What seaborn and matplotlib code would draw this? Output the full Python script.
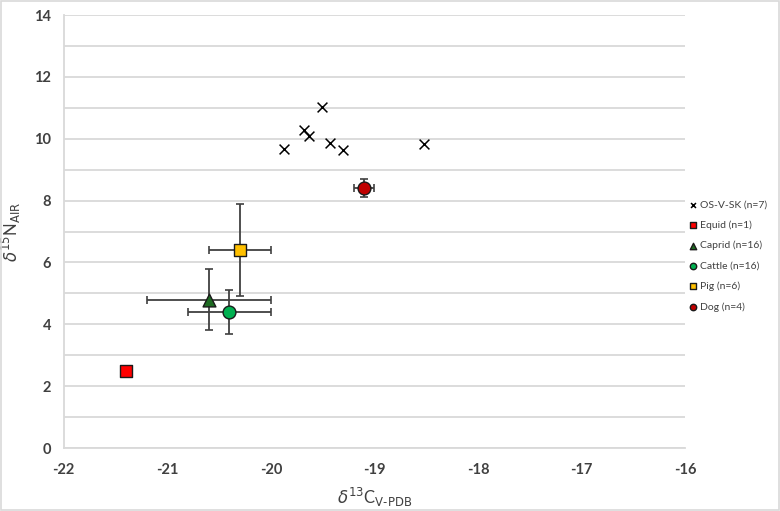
import matplotlib
matplotlib.use("Agg")
import matplotlib.pyplot as plt
import seaborn as sns
import pandas as pd
from matplotlib.ticker import MultipleLocator

# --- data ---
human_c = [-19.51, -19.68, -19.63, -19.87, -19.43, -19.30, -18.52]
human_n = [11.03, 10.29, 10.10, 9.66, 9.86, 9.62, 9.84]

groups = ["Equid (n=1)", "Caprid (n=16)", "Cattle (n=16)", "Pig (n=6)", "Dog (n=4)"]
mean_c = [-21.40, -20.60, -20.40, -20.30, -19.10]
mean_n = [2.50, 4.80, 4.40, 6.40, 8.40]
sd_c = [0.0, 0.6, 0.4, 0.3, 0.1]
sd_n = [0.0, 1.0, 0.7, 1.5, 0.3]
colors = ["#ff0000", "#1e6b22", "#00b050", "#ffc000", "#c00000"]
markers = ["s", "^", "o", "s", "o"]

xticks = [-22, -21, -20, -19, -18, -17, -16]
yticks = [0, 2, 4, 6, 8, 10, 12, 14]

sns.set_theme(style="white")
plt.rcParams['font.family'] = ['Lato', 'DejaVu Sans']
plt.rcParams['axes.unicode_minus'] = False

fig = plt.figure(figsize=(7.8, 5.11), dpi=100)
ax = fig.add_axes([63.7/780, 1 - 448/511, (685.3-63.7)/780, (448-15)/511])

grid_c = "#d9d9d9"
ax.set_xlim(-22, -16)
ax.set_ylim(0, 14)
ax.set_xticks(xticks, labels=[str(v) for v in xticks], fontweight='bold')
ax.set_yticks(yticks, labels=[str(v) for v in yticks], fontweight='bold')
ax.yaxis.set_minor_locator(MultipleLocator(1))
ax.grid(axis='y', which='both', color=grid_c, linewidth=1.3, zorder=0)
ax.set_axisbelow(True)
for s in ['top', 'right']:
    ax.spines[s].set_visible(False)
for s in ['left', 'bottom']:
    ax.spines[s].set_color(grid_c)
    ax.spines[s].set_linewidth(1.3)
ax.tick_params(axis='both', which='both', direction='out', length=5, width=1.0,
               color=grid_c, labelsize=10.5, labelcolor="#404040", pad=4)
ax.tick_params(axis='x', pad=6)

# error bars
for i in range(len(groups)):
    if sd_c[i] > 0 or sd_n[i] > 0:
        ax.errorbar(mean_c[i], mean_n[i], xerr=sd_c[i], yerr=sd_n[i], fmt='none',
                    ecolor="#404040", elinewidth=1.3, capsize=3, capthick=1.2, zorder=2)

# humans
hdf = pd.DataFrame({"c": human_c, "n": human_n})
sns.scatterplot(data=hdf, x="c", y="n", marker="x", color="black", s=50,
                linewidth=1.1, ax=ax, zorder=4, label="OS-V-SK (n=7)")

adf = pd.DataFrame({"c": mean_c, "n": mean_n, "g": groups})
for i, g in enumerate(groups):
    sub = adf[adf["g"] == g]
    sns.scatterplot(data=sub, x="c", y="n", marker=markers[i], color=colors[i],
                    edgecolor="#1a1a1a", linewidth=1.0,
                    s=(75 if markers[i] == "s" else 85), ax=ax, zorder=5, label=g)

ax.set_xlabel(r"$\delta^{13}$C$_{\mathrm{V\text{-}PDB}}$", fontsize=12, color="#404040", labelpad=6)
ax.set_ylabel(r"$\delta^{15}$N$_{\mathrm{AIR}}$", fontsize=12, color="#404040", labelpad=8)

leg = ax.legend(loc='upper left', bbox_to_anchor=(684/780, 1 - 196/511),
                bbox_transform=fig.transFigure, frameon=False, fontsize=7.5,
                labelcolor="#404040", markerscale=0.5, handletextpad=0.1,
                labelspacing=1.05, handlelength=1.0, borderaxespad=0)

fig.patches.append(plt.Rectangle((0.001, 0.001), 0.998, 0.997, transform=fig.transFigure,
                                 fill=False, edgecolor="#d9d9d9", linewidth=1.2))
fig.savefig("out.png", dpi=100)
